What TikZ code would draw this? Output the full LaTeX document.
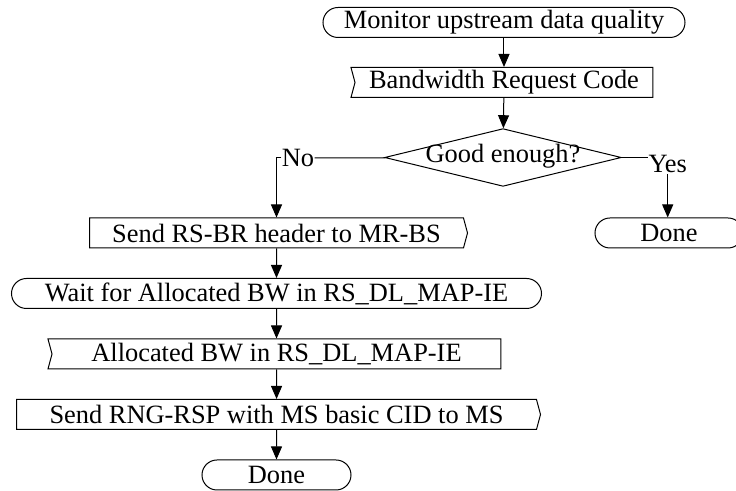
\documentclass[tikz,border=0pt]{standalone}
\usepackage{fontspec}
\setmainfont{Liberation Serif}
\usetikzlibrary{shapes.geometric,shapes.symbols,arrows.meta}

\begin{document}
\begin{tikzpicture}[x=0.5pt, y=-0.5pt, line width=0.5pt,
	every node/.style={font=\fontsize{13.2}{15}\selectfont},
	term/.style={shape=rectangle, draw=black, rounded corners=7.5pt, minimum height=15pt, inner sep=1pt},
	recv/.style={shape=signal, signal from=west, signal to=nowhere, signal pointer angle=150, draw=black, minimum height=15pt, inner sep=1pt},
	sendsig/.style={shape=signal, signal to=east, signal from=nowhere, signal pointer angle=150, draw=black, minimum height=15pt, inner sep=1pt},
	dec/.style={shape=diamond, draw=black, aspect=4.1, inner sep=0pt, text height=7.5pt, text depth=2.5pt},
	lbl/.style={inner sep=0pt},
	flow/.style={-{Triangle[length=6.5pt, width=5.5pt]}}]
	
	\useasboundingbox (0, 0) rectangle (736, 491);
	
	\node[term, minimum width=181pt]    (start)   at (504, 22.5)    {Monitor upstream data quality};
	\node[recv, minimum width=151pt]    (brc)     at (504, 82.5)    {Bandwidth Request Code};
	\node[dec]                          (good)    at (503, 157.5)   {Good enough?};
	\node[lbl]                          (no)      at (298, 158)     {No};
	\node[lbl, anchor=base west]        (yes)     at (648, 173)     {Yes};
	\node[term, minimum width=74pt]     (done1)   at (669, 233)     {Done};
	\node[sendsig, minimum width=189pt] (sendbr)  at (276.5, 233)   {Send RS-BR header to MR-BS};
	\node[term, minimum width=265pt]    (wait)    at (276.5, 293.5) {Wait for Allocated BW in RS\_DL\_MAP-IE};
	\node[recv, minimum width=226.5pt]  (alloc)   at (276.5, 354)   {Allocated BW in RS\_DL\_MAP-IE};
	\node[sendsig, minimum width=262pt] (sendrng) at (276.5, 414.5) {Send RNG-RSP with MS basic CID to MS};
	\node[term, minimum width=74.5pt]   (done2)   at (276.5, 475)   {Done};
	
	\path[flow] (start) edge (brc);
	\path[flow] (brc) edge (good);
	\path[-] (good) edge (no);
	\draw[flow] (no.west) -| (sendbr.north);
	\draw[-] (good.east) -- (good.east -| yes.west);
	\draw[flow] (yes.south) -- (yes.south |- done1.north);
	\path[flow] (sendbr) edge (wait);
	\path[flow] (wait) edge (alloc);
	\path[flow] (alloc) edge (sendrng);
	\path[flow] (sendrng) edge (done2);
	
\end{tikzpicture}
\end{document}
